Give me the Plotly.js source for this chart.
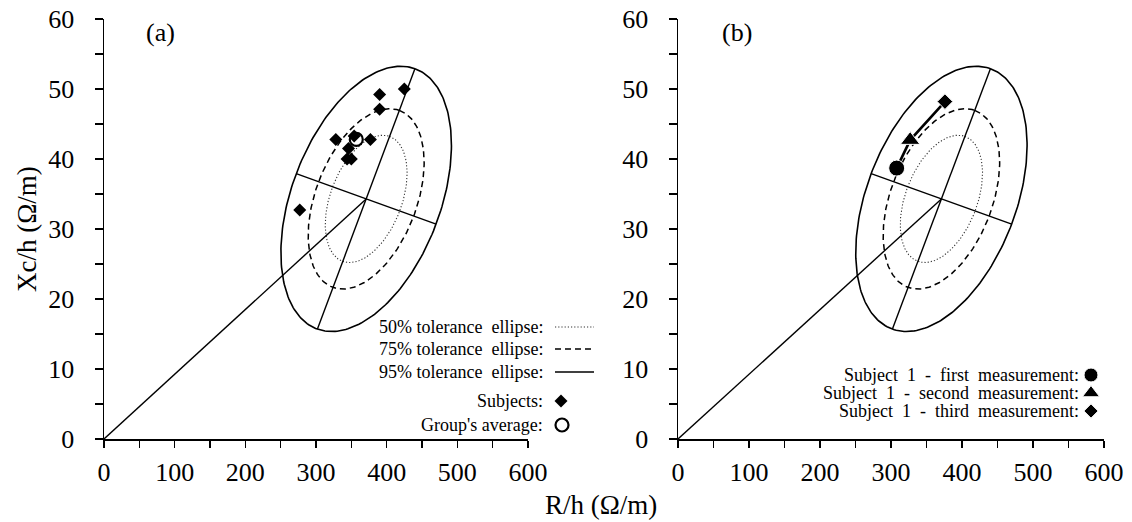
<!DOCTYPE html>
<html><head><meta charset="utf-8">
<script src="https://cdn.plot.ly/plotly-3.0.1.min.js"></script>
<style>html,body{margin:0;padding:0;background:#fff}</style>
</head><body><div id="chart" style="width:1132px;height:522px"></div>
<script>
// ---- data ----
const ellipseCenter = [371, 34.3];          // R/h, Xc/h
const majorSemiAxis = [69, 18.6];           // 95% ellipse semi-axis vectors
const minorSemiAxis = [99, -3.6];
const toleranceLevels = ['50%', '75%', '95%'];
const toleranceScales = [0.48, 0.68, 1.0];

const subjectsR  = [425, 390, 390, 328, 354, 377, 346, 344, 350, 277];
const subjectsXc = [50.0, 49.2, 47.1, 42.8, 43.3, 42.8, 41.5, 40.0, 40.0, 32.7];
const averageR  = [357];
const averageXc = [42.8];

const subject1R  = [308, 327, 376];
const subject1Xc = [38.7, 42.7, 48.2];

const xTickVals = [0, 100, 200, 300, 400, 500, 600];
const yTickVals = [0, 10, 20, 30, 40, 50, 60];

// ---- build ----
const FONT = 'Liberation Serif, Times New Roman, serif';
function ellipse(k) {
  const xs = [], ys = [];
  const N = 240;
  for (let i = 0; i <= N; i++) {
    const t = 2 * Math.PI * i / N;
    xs.push(ellipseCenter[0] + k * (majorSemiAxis[0] * Math.cos(t) + minorSemiAxis[0] * Math.sin(t)));
    ys.push(ellipseCenter[1] + k * (majorSemiAxis[1] * Math.cos(t) + minorSemiAxis[1] * Math.sin(t)));
  }
  return {x: xs, y: ys};
}
const dashes = {'50%': {dash: '1.2px,2px', width: 1.1, color: '#333'},
                '75%': {dash: '6px,4px', width: 1.5, color: '#000'},
                '95%': {dash: 'solid', width: 1.6, color: '#000'}};

function panelBase(xa, ya) {
  const tr = [];
  toleranceLevels.forEach((lv, i) => {
    const e = ellipse(toleranceScales[i]);
    tr.push({type: 'scatter', mode: 'lines', x: e.x, y: e.y, xaxis: xa, yaxis: ya,
      line: {color: dashes[lv].color, width: dashes[lv].width, dash: dashes[lv].dash}, hoverinfo: 'skip'});
  });
  const c = ellipseCenter;
  tr.push({type: 'scatter', mode: 'lines', xaxis: xa, yaxis: ya, hoverinfo: 'skip',
    x: [c[0] - majorSemiAxis[0], c[0] + majorSemiAxis[0]],
    y: [c[1] - majorSemiAxis[1], c[1] + majorSemiAxis[1]], line: {color: '#000', width: 1.4}});
  tr.push({type: 'scatter', mode: 'lines', xaxis: xa, yaxis: ya, hoverinfo: 'skip',
    x: [c[0] - minorSemiAxis[0], c[0] + minorSemiAxis[0]],
    y: [c[1] - minorSemiAxis[1], c[1] + minorSemiAxis[1]], line: {color: '#000', width: 1.4}});
  tr.push({type: 'scatter', mode: 'lines', xaxis: xa, yaxis: ya, hoverinfo: 'skip',
    x: [0, c[0]], y: [0, c[1]], line: {color: '#000', width: 1.4}});
  return tr;
}

const traces = [].concat(panelBase('x', 'y'), panelBase('x2', 'y2'));
traces.push({type: 'scatter', mode: 'markers', x: subjectsR, y: subjectsXc, xaxis: 'x', yaxis: 'y',
  marker: {symbol: 'diamond', size: 10, color: '#000', opacity: 1}});
traces.push({type: 'scatter', mode: 'markers', x: averageR, y: averageXc, xaxis: 'x', yaxis: 'y',
  marker: {symbol: 'circle-open', size: 13, color: '#000', opacity: 1, line: {width: 2.2, color: '#000'}}});
traces.push({type: 'scatter', mode: 'lines', x: subject1R, y: subject1Xc, xaxis: 'x2', yaxis: 'y2',
  line: {color: '#000', width: 2.6}});
traces.push({type: 'scatter', mode: 'markers', x: subject1R, y: subject1Xc, xaxis: 'x2', yaxis: 'y2',
  marker: {symbol: ['circle', 'triangle-up', 'diamond'], size: [16, 17, 12], color: '#000', opacity: 1}});

// legend samples on a pixel overlay axis
const legLineX = [555, 594];
const legRows = [327, 349, 372];
toleranceLevels.forEach((lv, i) => {
  traces.push({type: 'scatter', mode: 'lines', x: legLineX, y: [legRows[i], legRows[i]], xaxis: 'x3', yaxis: 'y3',
    line: {color: dashes[lv].color, width: dashes[lv].width, dash: dashes[lv].dash}, hoverinfo: 'skip'});
});
traces.push({type: 'scatter', mode: 'markers', x: [561], y: [401], xaxis: 'x3', yaxis: 'y3',
  marker: {symbol: 'diamond', size: 10, color: '#000', opacity: 1}});
traces.push({type: 'scatter', mode: 'markers', x: [562], y: [425], xaxis: 'x3', yaxis: 'y3',
  marker: {symbol: 'circle-open', size: 13, color: '#000', opacity: 1, line: {width: 2.2, color: '#000'}}});
traces.push({type: 'scatter', mode: 'markers', x: [1091, 1091, 1091], y: [375, 393, 411], xaxis: 'x3', yaxis: 'y3',
  marker: {symbol: ['circle', 'triangle-up', 'diamond'], size: [14, 15, 11], color: '#000', opacity: 1}});

function xAxis(d, anchor) {
  return {domain: d, anchor: anchor, range: [0, 600], tickvals: xTickVals, ticks: 'outside', ticklen: 7,
    tickwidth: 1.3, tickcolor: '#000', showline: true, linecolor: '#000', linewidth: 1.5,
    showgrid: false, zeroline: false, fixedrange: true, ticklabelstandoff: 2,
    tickfont: {family: FONT, size: 26, color: '#000'},
    minor: {dtick: 50, tick0: 0, ticks: 'outside', ticklen: 7, tickwidth: 1.3, tickcolor: '#000', showgrid: false}};
}
function yAxis(d, anchor) {
  return {domain: d, anchor: anchor, range: [0, 60], tickvals: yTickVals, ticks: 'outside', ticklen: 8,
    tickwidth: 1.3, tickcolor: '#000', showline: true, linecolor: '#000', linewidth: 1.5,
    showgrid: false, zeroline: false, fixedrange: true, ticklabelstandoff: 15,
    tickfont: {family: FONT, size: 26, color: '#000'},
    minor: {dtick: 5, tick0: 0, ticks: 'outside', ticklen: 8, tickwidth: 1.3, tickcolor: '#000', showgrid: false}};
}
const yDom = [83 / 522, 503 / 522];
const ann = (text, x, y, opts) => Object.assign({text: text, x: x, y: y, xref: 'x3', yref: 'y3',
  showarrow: false, font: {family: FONT, size: 18, color: '#000'}, xanchor: 'right', yanchor: 'middle'}, opts || {});
const nb = '\u00a0';
const layout = {
  width: 1132, height: 522, margin: {l: 0, r: 0, t: 0, b: 0},
  paper_bgcolor: '#fff', plot_bgcolor: 'rgba(0,0,0,0)', showlegend: false,
  xaxis: xAxis([104 / 1132, 528 / 1132], 'y'),
  yaxis: yAxis(yDom, 'x'),
  xaxis2: xAxis([678 / 1132, 1104 / 1132], 'y2'),
  yaxis2: yAxis(yDom, 'x2'),
  xaxis3: {domain: [0, 1], range: [0, 1132], visible: false, fixedrange: true, anchor: 'y3'},
  yaxis3: {domain: [0, 1], range: [522, 0], visible: false, fixedrange: true, anchor: 'x3'},
  annotations: [
    ann('(a)', 160, 32, {xanchor: 'center', font: {family: FONT, size: 26, color: '#000'}}),
    ann('(b)', 737, 32, {xanchor: 'center', font: {family: FONT, size: 26, color: '#000'}}),
    ann('R/h (Ω/m)', 601, 505, {xanchor: 'center', font: {family: FONT, size: 27, color: '#000'}}),
    ann('Xc/h (Ω/m)', 27, 229, {xanchor: 'center', textangle: -90, font: {family: FONT, size: 27, color: '#000'}}),
    ann('50% tolerance' + nb + nb + 'ellipse:', 545, legRows[0]),
    ann('75% tolerance' + nb + nb + 'ellipse:', 545, legRows[1]),
    ann('95% tolerance' + nb + nb + 'ellipse:', 545, legRows[2]),
    ann('Subjects:', 545, 401),
    ann("Group's average:", 545, 425),
    ann('Subject' + nb + ' 1' + nb + ' -' + nb + ' first' + nb + ' measurement:', 1081, 375),
    ann('Subject' + nb + ' 1' + nb + ' -' + nb + ' second' + nb + ' measurement:', 1081, 393),
    ann('Subject' + nb + ' 1' + nb + ' -' + nb + ' third' + nb + ' measurement:', 1081, 411)
  ]
};
Plotly.newPlot('chart', traces, layout, {staticPlot: true, displayModeBar: false});
</script></body></html>
